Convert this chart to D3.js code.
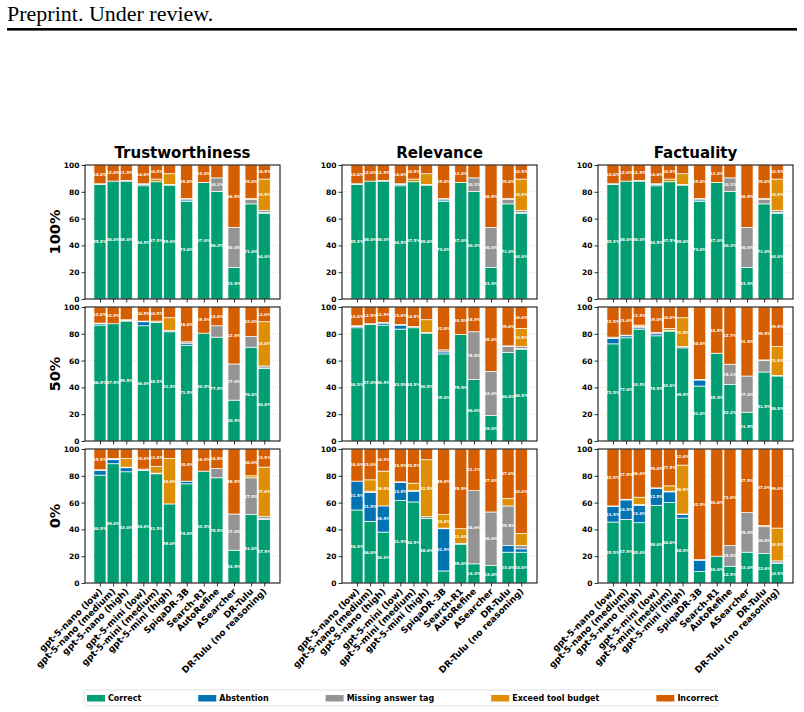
<!DOCTYPE html>
<html>
<head>
<meta charset="utf-8">
<script src="https://cdn.jsdelivr.net/npm/d3@7"></script>
<style>
  body { margin: 0; background: #fff; }
  svg { display: block; }
</style>
</head>
<body>
<svg id="chart" width="804" height="712"></svg>
<script>
// ─── DATA ───
const MODELS = [
  'gpt-5-nano (low)', 'gpt-5-nano (medium)', 'gpt-5-nano (high)',
  'gpt-5-mini (low)', 'gpt-5-mini (medium)', 'gpt-5-mini (high)',
  'SpiqaDR-3B', 'Search-R1', 'AutoRefine', 'ASearcher',
  'DR-Tulu', 'DR-Tulu (no reasoning)'
];
const MODEL_GROUP = [0, 0, 0, 1, 1, 1, 2, 3, 3, 4, 5, 5];
const OUTCOMES = ['Correct', 'Abstention', 'Missing answer tag', 'Exceed tool budget', 'Incorrect'];
const COLORS = ['#029e73', '#0173b2', '#949494', '#de8f05', '#d55e00'];
const METRICS = ['Trustworthiness', 'Relevance', 'Factuality'];
const LEVELS = ['100%', '50%', '0%'];
const Y_TICKS = [0, 20, 40, 60, 80, 100];

// each row: [correct, abstention, missing tag, exceed budget, incorrect] in %
const trust_100 = [
  [85.5, 0, 0.5, 0, 14.0], [88.0, 0, 0, 0, 12.0], [88.0, 0, 0.5, 0, 11.5],
  [84.5, 1.0, 0.5, 0, 14.0], [87.5, 0, 0, 2.0, 10.5], [85.0, 0, 0.5, 8.0, 6.5],
  [73.0, 1.0, 1.0, 0, 25.0], [87.0, 0, 0, 0, 13.0], [80.3, 0, 10.1, 0, 9.6],
  [23.5, 0, 30.0, 0, 46.5], [71.0, 0, 3.5, 0.5, 25.0], [64.0, 0.5, 1.5, 23.5, 10.5]
];
const trust_50 = [
  [86.5, 1.0, 0.5, 0, 12.0], [87.5, 0, 0, 0, 12.5], [89.5, 0, 0.5, 0.5, 9.5],
  [86.0, 3.0, 0.5, 0, 10.5], [88.5, 0, 0, 1.0, 10.5], [81.5, 0, 1.0, 9.5, 8.0],
  [71.5, 1.5, 1.0, 0, 26.0], [80.5, 0, 0, 0, 19.5], [77.5, 0, 8.5, 0, 14.0],
  [30.5, 0, 27.0, 0, 42.5], [70.0, 0, 8.0, 0, 22.0], [54.0, 0.5, 1.5, 33.0, 11.0]
];
const trust_0 = [
  [80.5, 3.5, 0.5, 0, 15.5], [89.0, 3.0, 0.5, 0.5, 7.0], [83.0, 3.0, 0.5, 6.5, 7.0],
  [84.0, 0, 1.0, 0, 15.0], [81.5, 0, 0.5, 5.0, 13.0], [59.0, 0, 0, 34.0, 7.0],
  [74.0, 2.0, 0, 0, 24.0], [83.5, 0, 0, 0, 16.5], [78.5, 0, 7.0, 0, 14.5],
  [24.5, 0, 27.0, 0, 48.5], [51.0, 0, 27.5, 1.5, 20.0], [47.5, 0.5, 1.5, 37.0, 13.5]
];
const rel_100 = [
  [85.5, 0, 0.5, 0, 14.0], [88.0, 0, 0, 0, 12.0], [88.0, 0, 0.5, 0, 11.5],
  [84.5, 1.0, 0.5, 0, 14.0], [87.5, 0, 0, 2.0, 10.5], [85.0, 0, 0.5, 8.0, 6.5],
  [73.0, 1.0, 1.0, 0, 25.0], [87.0, 0, 0, 0, 13.0], [80.3, 0, 10.1, 0, 9.6],
  [23.5, 0, 30.0, 0, 46.5], [71.0, 0, 3.5, 0.5, 25.0], [64.0, 0.5, 1.5, 23.5, 10.5]
];
const rel_50 = [
  [84.5, 1.0, 0.5, 0, 14.0], [87.0, 0, 0.5, 0, 12.5], [86.5, 1.5, 0.5, 0, 11.5],
  [83.5, 3.0, 0.5, 0, 13.0], [84.5, 0, 1.0, 0, 14.5], [80.5, 0, 0.5, 9.5, 9.5],
  [65.0, 1.5, 1.5, 0, 32.0], [79.5, 0, 0, 0, 20.5], [46.0, 0, 35.5, 0, 18.5],
  [19.0, 0, 33.0, 0, 48.0], [66.0, 0, 4.5, 0.5, 29.0], [68.5, 0.5, 1.5, 13.5, 16.0]
];
const rel_0 = [
  [54.5, 21.5, 0, 0, 24.0], [46.0, 21.5, 1.0, 8.5, 23.0], [38.0, 19.5, 0, 26.0, 16.5],
  [61.5, 13.5, 0.5, 0, 24.5], [60.5, 8.0, 0.5, 5.5, 25.5], [48.0, 0, 1.5, 42.5, 8.0],
  [9.0, 31.5, 0.5, 10.0, 49.0], [29.0, 0, 0.5, 11.0, 59.5], [14.3, 0, 54.6, 0, 31.1],
  [13.0, 0, 40.0, 0, 47.0], [23.0, 5.0, 29.5, 5.5, 37.0], [23.0, 2.5, 2.5, 9.0, 63.0]
];
const fact_100 = [
  [85.5, 0, 0.5, 0, 14.0], [88.0, 0, 0, 0, 12.0], [88.0, 0, 0.5, 0, 11.5],
  [84.5, 1.0, 0.5, 0, 14.0], [87.5, 0, 0, 2.0, 10.5], [85.0, 0, 0.5, 8.0, 6.5],
  [73.0, 1.0, 1.0, 0, 25.0], [87.0, 0, 0, 0, 13.0], [80.3, 0, 10.1, 0, 9.6],
  [23.5, 0, 30.0, 0, 46.5], [71.0, 0, 3.5, 0.5, 25.0], [64.0, 0.5, 1.5, 23.5, 10.5]
];
const fact_50 = [
  [72.5, 4.0, 1.0, 0, 22.5], [77.0, 1.5, 0.5, 0, 21.0], [83.5, 1.0, 1.0, 1.0, 13.5],
  [78.5, 1.5, 1.0, 0, 19.0], [82.0, 0, 0.5, 1.5, 16.0], [69.5, 0, 1.0, 21.5, 8.0],
  [41.0, 4.5, 0.5, 0, 54.0], [65.5, 0, 0, 0, 34.5], [42.2, 0, 15.1, 0, 42.7],
  [21.5, 0, 27.0, 0, 51.5], [51.5, 0, 8.5, 0.5, 39.5], [48.5, 0, 0.5, 21.5, 29.5]
];
const fact_0 = [
  [45.5, 11.5, 0.5, 0, 42.5], [47.5, 14.5, 0.5, 0, 37.5], [45.0, 13.0, 0.5, 5.5, 36.0],
  [58.0, 12.5, 0.5, 0, 29.0], [60.0, 8.0, 0.5, 4.0, 27.5], [48.5, 2.5, 0.5, 36.5, 12.0],
  [8.5, 8.5, 0.5, 0, 82.5], [20.0, 0, 0, 0, 80.0], [12.5, 0, 15.5, 0, 72.0],
  [23.0, 0, 29.5, 0, 47.5], [22.0, 0, 20.0, 1.0, 57.0], [14.5, 0.5, 1.5, 24.5, 59.0]
];

const GRID = [
  [trust_100, rel_100, fact_100],
  [trust_50, rel_50, fact_50],
  [trust_0, rel_0, fact_0]
];

// ─── LAYOUT ───
const PANEL_LEFT = [85, 342, 598];
const PANEL_TOP = [165, 307, 449];
const PW = 195;
const PH = 134;
const BAR_W = 0.92;
const GROUP_GAP = 0.3;
const FONT = "'DejaVu Sans', sans-serif";

const svg = d3.select('#chart');

// header
svg.append('text')
  .attr('x', 7).attr('y', 21)
  .attr('font-family', "'Liberation Serif', serif")
  .attr('font-size', 22)
  .text('Preprint. Under review.');
svg.append('rect')
  .attr('x', 7).attr('y', 28).attr('width', 790).attr('height', 2.6)
  .attr('fill', '#000');

const positions = MODELS.map((m, i) => i + MODEL_GROUP[i] * GROUP_GAP);
const x = d3.scaleLinear().domain([-1.14, 13.7]).range([0, PW]);
const y = d3.scaleLinear().domain([0, 100]).range([PH, 0]);
const stack = d3.stack().keys(d3.range(OUTCOMES.length)).value((d, k) => d[k]);
const fmt = v => d3.format('.1f')(v) + '%';

GRID.forEach((row, r) => {
  row.forEach((data, c) => {
    const g = svg.append('g')
      .attr('transform', `translate(${PANEL_LEFT[c]},${PANEL_TOP[r]})`);

    // grid
    g.append('g').selectAll('line')
      .data(Y_TICKS.filter(t => t > 0 && t < 100))
      .join('line')
      .attr('x1', 0).attr('x2', PW)
      .attr('y1', d => y(d)).attr('y2', d => y(d))
      .attr('stroke', '#c8c8c8').attr('stroke-width', 0.6)
      .attr('stroke-dasharray', '1,1.5');

    const series = stack(data);
    const bw = x(BAR_W) - x(0);

    series.forEach((layer, k) => {
      g.append('g').selectAll('rect')
        .data(layer)
        .join('rect')
        .attr('x', (d, i) => x(positions[i]) - bw / 2)
        .attr('width', bw)
        .attr('y', d => y(d[1]))
        .attr('height', d => Math.max(0, y(d[0]) - y(d[1])))
        .attr('fill', COLORS[k])
        .attr('stroke', '#fff')
        .attr('stroke-width', 0.7);
    });

    // segment labels
    series.forEach((layer, k) => {
      g.append('g').selectAll('text')
        .data(layer.map((d, i) => ({ d, i, v: data[i][k] })).filter(o => o.v >= 10))
        .join('text')
        .attr('x', o => x(positions[o.i]))
        .attr('y', o => y((o.d[0] + o.d[1]) / 2))
        .attr('dy', '0.35em')
        .attr('text-anchor', 'middle')
        .attr('font-family', FONT)
        .attr('font-weight', 'bold')
        .attr('font-size', 4)
        .attr('fill', '#fff')
        .text(o => fmt(o.v));
    });

    // axes
    const yAxis = g.append('g').call(d3.axisLeft(y).tickValues(Y_TICKS).tickSize(3.5).tickPadding(2));
    yAxis.select('.domain').remove();
    yAxis.selectAll('text')
      .attr('font-family', FONT).attr('font-weight', 'bold').attr('font-size', 7.5).attr('fill', '#000');
    yAxis.selectAll('line').attr('stroke', '#000').attr('stroke-width', 0.8);

    const xAxis = g.append('g').attr('transform', `translate(0,${PH})`)
      .call(d3.axisBottom(x).tickValues(positions).tickSize(3.5).tickFormat(''));
    xAxis.select('.domain').remove();
    xAxis.selectAll('line').attr('stroke', '#000').attr('stroke-width', 0.8);

    if (r === GRID.length - 1) {
      g.append('g').selectAll('text')
        .data(MODELS)
        .join('text')
        .attr('transform', (d, i) => `translate(${x(positions[i]) + 3},${PH + 9}) rotate(-45)`)
        .attr('text-anchor', 'end')
        .attr('font-family', FONT)
        .attr('font-weight', 'bold')
        .attr('font-size', 9)
        .text(d => d);
    }

    // frame
    g.append('rect')
      .attr('width', PW).attr('height', PH)
      .attr('fill', 'none').attr('stroke', '#000').attr('stroke-width', 1);

    if (r === 0) {
      g.append('text')
        .attr('x', PW / 2).attr('y', -7)
        .attr('text-anchor', 'middle')
        .attr('font-family', FONT).attr('font-weight', 'bold').attr('font-size', 15)
        .text(METRICS[c]);
    }
    if (c === 0) {
      g.append('text')
        .attr('transform', `translate(-25,${PH / 2}) rotate(-90)`)
        .attr('text-anchor', 'middle')
        .attr('font-family', FONT).attr('font-weight', 'bold').attr('font-size', 14.5)
        .text(LEVELS[r]);
    }
  });
});

// ─── LEGEND ───
const legend = svg.append('g').attr('transform', 'translate(84,690)');
legend.append('rect')
  .attr('width', 634).attr('height', 16).attr('rx', 2)
  .attr('fill', '#fff').attr('stroke', '#d9d9d9').attr('stroke-width', 0.8);
let lx = 3;
OUTCOMES.forEach((name, k) => {
  legend.append('rect')
    .attr('x', lx).attr('y', 5).attr('width', 18).attr('height', 6.5)
    .attr('fill', COLORS[k]);
  const t = legend.append('text')
    .attr('x', lx + 21).attr('y', 8.2).attr('dy', '0.35em')
    .attr('font-family', FONT).attr('font-weight', 'bold').attr('font-size', 8)
    .text(name);
  lx += 21 + t.node().getComputedTextLength() + 57;
});
</script>
</body>
</html>
